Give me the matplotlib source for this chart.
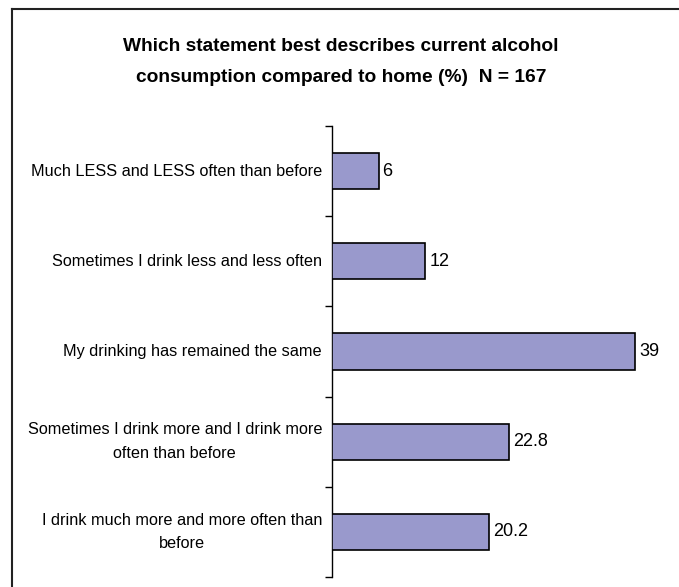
import matplotlib.pyplot as plt
from matplotlib.lines import Line2D
from matplotlib.transforms import blended_transform_factory

# categories top to bottom
categories = [
    "Much LESS and LESS often than before",
    "Sometimes I drink less and less often",
    "My drinking has remained the same",
    "Sometimes I drink more and I drink more\noften than before",
    "I drink much more and more often than\nbefore",
]
values = [6, 12, 39, 22.8, 20.2]
value_labels = ["6", "12", "39", "22.8", "20.2"]

TITLE = "Which statement best describes current alcohol\nconsumption compared to home (%)  N = 167"
BAR_COLOR = "#9999cc"

plt.rcParams["font.family"] = ["Liberation Sans", "DejaVu Sans"]

fig = plt.figure(figsize=(6.79, 5.87), dpi=100)
fig.patch.set_facecolor("white")

# frame lines (only left and top visible in the reference)
fig.add_artist(Line2D([11.5 / 679, 11.5 / 679], [0, 1 - 9 / 587], color="#222222", lw=1.5))
fig.add_artist(Line2D([11.5 / 679, 1], [1 - 9 / 587, 1 - 9 / 587], color="#222222", lw=1.5))

fig.text(0.502, 1 - 62 / 587, TITLE, ha="center", va="center", fontsize=13.8,
         linespacing=2.1, color="black", fontweight="bold")

ax = fig.add_axes([332 / 679, 10 / 587, 311 / 679, 451 / 587])
n = len(categories)
ypos = list(range(n))
ax.barh(ypos, values, height=0.4, color=BAR_COLOR, edgecolor="black", linewidth=1.2, zorder=3)
ax.set_ylim(n - 0.5, -0.5)
ax.set_xlim(0, 40)

for y, v, lab in zip(ypos, values, value_labels):
    ax.text(v + 0.5, y, lab, va="center", ha="left", fontsize=13, color="black")

# category labels: right-aligned block, centred lines
trans = blended_transform_factory(fig.transFigure, ax.transData)
for y, cat in zip(ypos, categories):
    fig.text(322 / 679, y, cat, transform=trans, ha="right", va="center",
             multialignment="center", fontsize=11.7, linespacing=1.7, color="black")

ax.set_yticks([i - 0.5 for i in range(n + 1)])
ax.set_yticklabels([])
ax.tick_params(axis="y", which="major", length=5, width=1, direction="out")

ax.set_xticks([])
for s in ["top", "right", "bottom"]:
    ax.spines[s].set_visible(False)
ax.spines["left"].set_linewidth(1)

fig.savefig("out.png", dpi=100, facecolor="white")
